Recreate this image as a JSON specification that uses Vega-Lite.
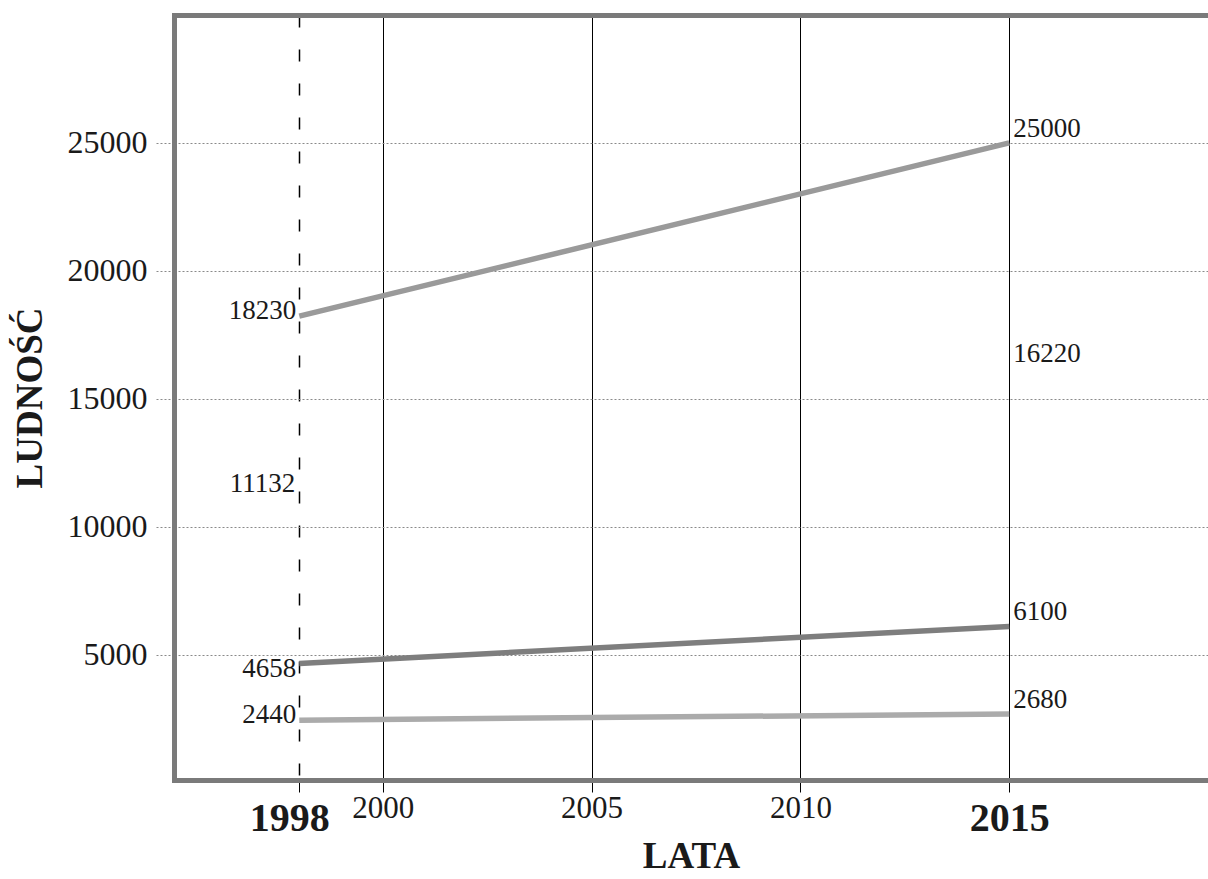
{
  "$schema": "https://vega.github.io/schema/vega-lite/v6.json",
  "width": 1034,
  "height": 765,
  "autosize": {"type": "none"},
  "padding": {"left": 174, "top": 15, "right": 0, "bottom": 99},
  "background": "white",
  "config": {"view": {"stroke": null}, "font": "Liberation Serif"},
  "datasets": {
    "serie": [
      {"rok": 1998, "ludnosc": 18230, "seria": "A"},
      {"rok": 2015, "ludnosc": 25000, "seria": "A"},
      {"rok": 1998, "ludnosc": 4658, "seria": "B"},
      {"rok": 2015, "ludnosc": 6100, "seria": "B"},
      {"rok": 1998, "ludnosc": 2440, "seria": "C"},
      {"rok": 2015, "ludnosc": 2680, "seria": "C"}
    ],
    "etykiety": [
      {"rok": 1998, "ludnosc": 18230},
      {"rok": 1998, "ludnosc": 11132},
      {"rok": 1998, "ludnosc": 4658},
      {"rok": 1998, "ludnosc": 2440},
      {"rok": 2015, "ludnosc": 25000},
      {"rok": 2015, "ludnosc": 16220},
      {"rok": 2015, "ludnosc": 6100},
      {"rok": 2015, "ludnosc": 2680}
    ]
  },
  "encoding": {
    "y": {
      "field": "ludnosc",
      "type": "quantitative",
      "scale": {"domain": [100, 30000], "nice": false, "zero": false},
      "axis": {
        "values": [5000, 10000, 15000, 20000, 25000],
        "format": "d",
        "grid": true,
        "gridColor": "#8a8a8a",
        "gridDash": [2, 2],
        "gridWidth": 1,
        "tickColor": "#8a8a8a",
        "tickDash": [2, 2],
        "tickSize": 20,
        "domainColor": "#7a7a7a",
        "domainWidth": 5,
        "domainCap": "square",
        "labelFont": "Liberation Serif",
        "labelFontSize": 32,
        "labelPadding": 7,
        "labelColor": "#1a1a1a",
        "title": "LUDNOŚĆ",
        "titleFont": "Liberation Serif",
        "titleFontSize": 37,
        "titleFontWeight": "bold",
        "titleColor": "#1a1a1a",
        "titlePadding": 18
      }
    }
  },
  "layer": [
    {
      "data": {"name": "serie"},
      "mark": {"type": "line", "strokeWidth": 5.5, "strokeCap": "butt"},
      "encoding": {
        "x": {
          "field": "rok",
          "type": "quantitative",
          "scale": {"domain": [1995, 2019.76], "nice": false, "zero": false},
          "axis": {
            "orient": "bottom",
            "values": [1998, 2000, 2005, 2010, 2015],
            "format": "d",
            "grid": true,
            "gridColor": "black",
            "gridWidth": {"condition": {"test": "datum.value === 1998", "value": 1.5}, "value": 1},
            "gridDash": {"condition": {"test": "datum.value === 1998", "value": [12, 22]}, "value": []},
            "domainColor": "#7a7a7a",
            "domainWidth": 5,
            "domainCap": "square",
            "tickColor": "black",
            "tickSize": 12,
            "tickWidth": 1,
            "labelFont": "Liberation Serif",
            "labelFontSize": {"condition": {"test": "datum.value === 1998 || datum.value === 2015", "value": 40}, "value": 31},
            "labelFontWeight": {"condition": {"test": "datum.value === 1998 || datum.value === 2015", "value": "bold"}, "value": "normal"},
            "labelPadding": {"condition": {"test": "datum.value === 1998 || datum.value === 2015", "value": 6}, "value": 1},
            "labelOffset": {"condition": {"test": "datum.value === 1998", "value": -10}, "value": 0},
            "labelColor": "#1a1a1a",
            "title": "LATA",
            "titleFont": "Liberation Serif",
            "titleFontSize": 37,
            "titleFontWeight": "bold",
            "titleColor": "#1a1a1a",
            "titlePadding": 0
          }
        },
        "color": {
          "field": "seria",
          "type": "nominal",
          "scale": {"domain": ["A", "B", "C"], "range": ["#9a9a9a", "#7e7e7e", "#ababab"]},
          "legend": null
        },
        "detail": {"field": "seria"}
      }
    },
    {
      "data": {"name": "etykiety"},
      "transform": [{"filter": {"field": "ludnosc", "oneOf": [18230, 2440]}}],
      "mark": {"type": "text", "align": "right", "baseline": "middle", "dx": -3, "dy": -5, "fontSize": 27, "font": "Liberation Serif", "color": "#1a1a1a"},
      "encoding": {
        "x": {
          "field": "rok",
          "type": "quantitative",
          "scale": {"domain": [1995, 2019.76], "nice": false, "zero": false},
          "axis": {
            "orient": "top",
            "labels": false,
            "ticks": false,
            "grid": false,
            "title": null,
            "domainColor": "#7a7a7a",
            "domainWidth": 5,
            "domainCap": "square"
          }
        },
        "text": {"field": "ludnosc", "type": "quantitative", "format": "d"}
      }
    },
    {
      "data": {"name": "etykiety"},
      "transform": [{"filter": {"field": "ludnosc", "oneOf": [11132]}}],
      "mark": {"type": "text", "align": "right", "baseline": "middle", "dx": -4, "dy": -14, "fontSize": 27, "font": "Liberation Serif", "color": "#1a1a1a"},
      "encoding": {
        "x": {"field": "rok", "type": "quantitative", "scale": {"domain": [1995, 2019.76], "nice": false, "zero": false}, "axis": null},
        "text": {"field": "ludnosc", "type": "quantitative", "format": "d"}
      }
    },
    {
      "data": {"name": "etykiety"},
      "transform": [{"filter": {"field": "ludnosc", "oneOf": [4658]}}],
      "mark": {"type": "text", "align": "right", "baseline": "middle", "dx": -3, "dy": 6, "fontSize": 27, "font": "Liberation Serif", "color": "#1a1a1a"},
      "encoding": {
        "x": {"field": "rok", "type": "quantitative", "scale": {"domain": [1995, 2019.76], "nice": false, "zero": false}, "axis": null},
        "text": {"field": "ludnosc", "type": "quantitative", "format": "d"}
      }
    },
    {
      "data": {"name": "etykiety"},
      "transform": [{"filter": {"field": "rok", "equal": 2015}}],
      "mark": {"type": "text", "align": "left", "baseline": "middle", "dx": 4, "dy": -14, "fontSize": 27, "font": "Liberation Serif", "color": "#1a1a1a"},
      "encoding": {
        "x": {"field": "rok", "type": "quantitative", "scale": {"domain": [1995, 2019.76], "nice": false, "zero": false}, "axis": null},
        "text": {"field": "ludnosc", "type": "quantitative", "format": "d"}
      }
    }
  ],
  "resolve": {"axis": {"x": "independent"}}
}
